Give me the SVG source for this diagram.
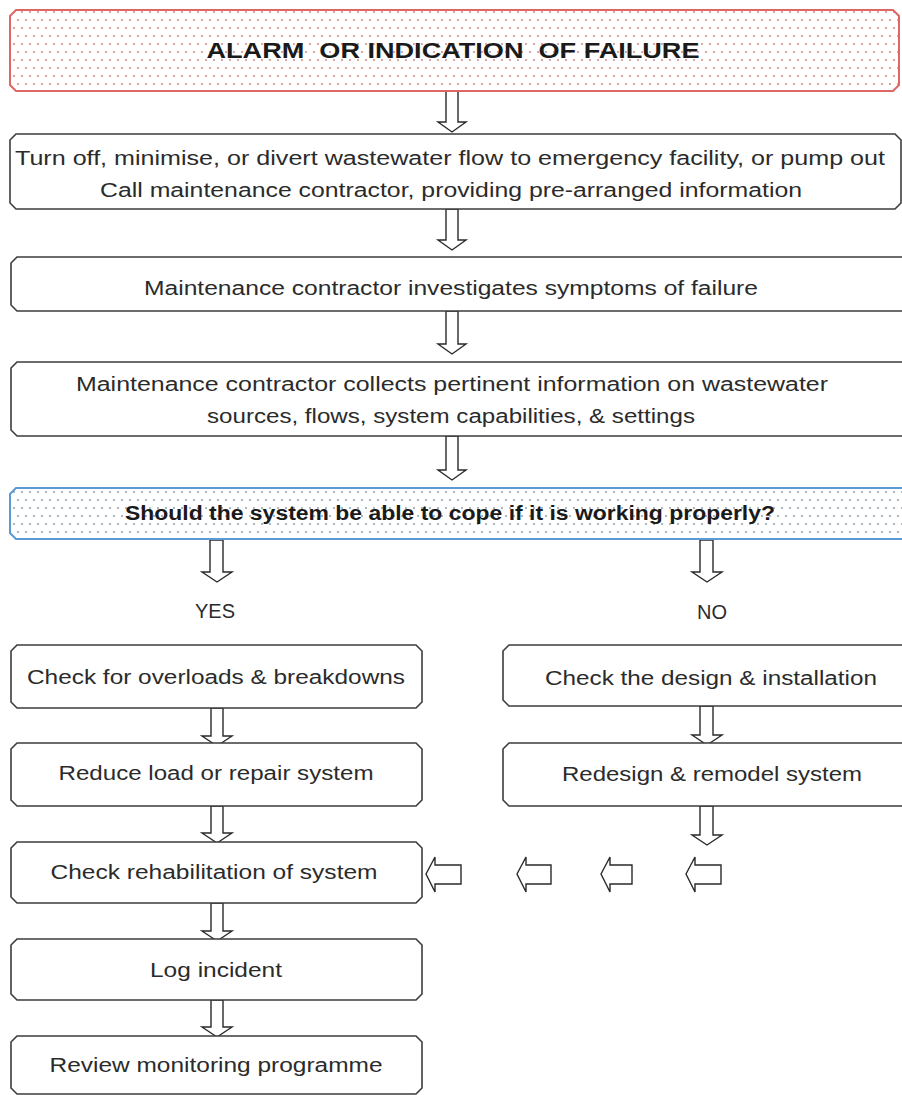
<svg xmlns="http://www.w3.org/2000/svg" width="902" height="1095" viewBox="0 0 902 1095">
<defs>
<pattern id="dotRed" width="8" height="16" patternUnits="userSpaceOnUse">
<rect width="8" height="16" fill="#ffffff"/>
<circle cx="2" cy="4" r="0.9" fill="#d27a7a"/>
<circle cx="6" cy="12" r="0.9" fill="#d27a7a"/>
</pattern>
<pattern id="dotBlue" width="8" height="16" patternUnits="userSpaceOnUse">
<rect width="8" height="16" fill="#ffffff"/>
<circle cx="2" cy="4" r="0.9" fill="#8498aa"/>
<circle cx="6" cy="12" r="0.9" fill="#8498aa"/>
</pattern>
</defs>
<style>
.box{fill:#ffffff;stroke:#3c3c3c;stroke-width:1.6}
.alarm{fill:url(#dotRed);stroke:#e06666;stroke-width:2}
.dec{fill:url(#dotBlue);stroke:#5b9bd5;stroke-width:2}
.arr{fill:#ffffff;stroke:#2a2a2a;stroke-width:1.4;stroke-linejoin:miter}
.t{font-family:"Liberation Sans",Arial,sans-serif;font-size:20px;fill:#2b2b2b;text-anchor:middle}
.b{font-family:"Liberation Sans",Arial,sans-serif;font-weight:bold;fill:#1a1a1a;text-anchor:middle}
</style>
<rect width="902" height="1095" fill="#ffffff"/>

<g id="connectors">
<path class="arr" d="M446,91 V122 H438 L452,132 L466,122 H458 V91 Z"/>
<path class="arr" d="M446,209 V240 H438 L452,250 L466,240 H458 V209 Z"/>
<path class="arr" d="M446,311 V344 H438 L452,354 L466,344 H458 V311 Z"/>
<path class="arr" d="M446,436 V470 H438 L452,480 L466,470 H458 V436 Z"/>
<path class="arr" d="M210,540 V572 H202 L217,582 L232,572 H223 V540 Z"/>
<path class="arr" d="M700,540 V572 H692 L707,582 L722,572 H713 V540 Z"/>
<path class="arr" d="M211,708 V736 H202 L217,746 L232,736 H223 V708 Z"/>
<path class="arr" d="M700,706 V735 H692 L707,745 L722,735 H713 V706 Z"/>
<path class="arr" d="M211,806 V833 H202 L217,843 L232,833 H223 V806 Z"/>
<path class="arr" d="M700,806 V835 H692 L707,845 L722,835 H713 V806 Z"/>
<path class="arr" d="M211,903 V931 H202 L217,941 L232,931 H223 V903 Z"/>
<path class="arr" d="M211,1000 V1027 H202 L217,1037 L232,1027 H223 V1000 Z"/>
<path class="arr" d="M426,874 L435,857 V865 H461 V884 H435 V892 Z"/>
<path class="arr" d="M517,874 L526,857 V865 H551 V884 H526 V892 Z"/>
<path class="arr" d="M601,874 L610,857 V865 H632 V884 H610 V892 Z"/>
<path class="arr" d="M686,874 L695,857 V865 H721 V884 H695 V892 Z"/>
</g>

<g id="alarm">
<path class="alarm" d="M16,10 H893 L899,16 V85 L893,91 H16 L10,85 V16 Z"/>
<text class="b" x="453" y="58" font-size="22" xml:space="preserve" textLength="493" lengthAdjust="spacingAndGlyphs">ALARM  OR INDICATION  OF FAILURE</text>
</g>

<g id="turn-off">
<path class="box" d="M16,134 H895 L901,140 V203 L895,209 H16 L10,203 V140 Z"/>
<text class="t" x="450" y="165" textLength="870" lengthAdjust="spacingAndGlyphs">Turn off, minimise, or divert wastewater flow to emergency facility, or pump out</text>
<text class="t" x="451" y="197" textLength="702" lengthAdjust="spacingAndGlyphs">Call maintenance contractor, providing pre-arranged information</text>
</g>

<g id="investigate">
<path class="box" d="M17,257 H905 L911,263 V305 L905,311 H17 L11,305 V263 Z"/>
<text class="t" x="451" y="295" textLength="614" lengthAdjust="spacingAndGlyphs">Maintenance contractor investigates symptoms of failure</text>
</g>

<g id="collect">
<path class="box" d="M17,362 H905 L911,368 V430 L905,436 H17 L11,430 V368 Z"/>
<text class="t" x="452" y="391" textLength="752" lengthAdjust="spacingAndGlyphs">Maintenance contractor collects pertinent information on wastewater</text>
<text class="t" x="451" y="423" textLength="488" lengthAdjust="spacingAndGlyphs">sources, flows, system capabilities, &amp; settings</text>
</g>

<g id="decision">
<path class="dec" d="M16,488 H905 L911,494 V533 L905,539 H16 L10,533 V494 Z"/>
<text class="b" x="450" y="520" font-size="20" textLength="650" lengthAdjust="spacingAndGlyphs">Should the system be able to cope if it is working properly?</text>
</g>

<g id="yes-label"><text class="t" x="215" y="618" font-size="19">YES</text></g>
<g id="no-label"><text class="t" x="712" y="619" font-size="19">NO</text></g>

<g id="overloads">
<path class="box" d="M17,645 H416 L422,651 V702 L416,708 H17 L11,702 V651 Z"/>
<text class="t" x="216" y="684" textLength="378" lengthAdjust="spacingAndGlyphs">Check for overloads &amp; breakdowns</text>
</g>
<g id="reduce">
<path class="box" d="M17,743 H416 L422,749 V800 L416,806 H17 L11,800 V749 Z"/>
<text class="t" x="216" y="780" textLength="315" lengthAdjust="spacingAndGlyphs">Reduce load or repair system</text>
</g>
<g id="rehab">
<path class="box" d="M17,842 H416 L422,848 V897 L416,903 H17 L11,897 V848 Z"/>
<text class="t" x="214" y="879" textLength="327" lengthAdjust="spacingAndGlyphs">Check rehabilitation of system</text>
</g>
<g id="log">
<path class="box" d="M17,939 H416 L422,945 V994 L416,1000 H17 L11,994 V945 Z"/>
<text class="t" x="216" y="977" textLength="132" lengthAdjust="spacingAndGlyphs">Log incident</text>
</g>
<g id="review">
<path class="box" d="M17,1036 H416 L422,1042 V1088 L416,1094 H17 L11,1088 V1042 Z"/>
<text class="t" x="216" y="1072" textLength="333" lengthAdjust="spacingAndGlyphs">Review monitoring programme</text>
</g>

<g id="design">
<path class="box" d="M509,645 H915 L921,651 V700 L915,706 H509 L503,700 V651 Z"/>
<text class="t" x="711" y="685" textLength="332" lengthAdjust="spacingAndGlyphs">Check the design &amp; installation</text>
</g>
<g id="redesign">
<path class="box" d="M509,743 H915 L921,749 V800 L915,806 H509 L503,800 V749 Z"/>
<text class="t" x="712" y="781" textLength="300" lengthAdjust="spacingAndGlyphs">Redesign &amp; remodel system</text>
</g>
</svg>
